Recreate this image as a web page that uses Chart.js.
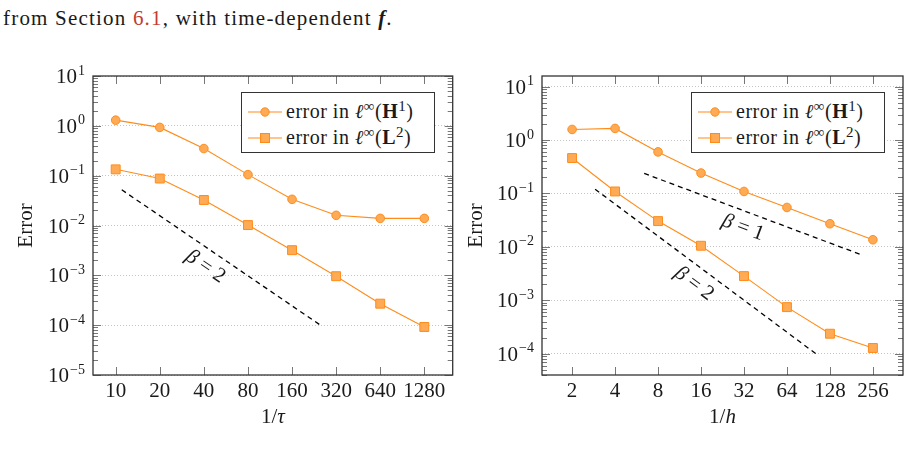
<!DOCTYPE html>
<html>
<head>
<meta charset="utf-8">
<script src="https://cdn.jsdelivr.net/npm/chart.js@4.4.1/dist/chart.umd.min.js"></script>
<style>
  body { margin: 0; background: #fff; font-family: "Liberation Serif", serif; color: #1a1a1a; }
  #page { position: relative; width: 912px; height: 464px; overflow: hidden; }
  .caption { position: absolute; left: 3px; top: 8px; font-size: 21px; line-height: 21px; letter-spacing: 1.2px; white-space: nowrap; }
  .caption .ref { color: #c33b2f; }
  .panel { position: absolute; top: 60px; height: 380px; }
  .legend { position: absolute; top: 32px; width: 192px; height: 59px; border: 1px solid #333; background: #fff; }
  .legend .row { position: absolute; left: 6px; height: 20px; line-height: 20px; font-size: 20px; letter-spacing: 0.5px; white-space: nowrap; }
  .legend svg { vertical-align: middle; margin-right: 4px; position: relative; top: -1px; }
  sup { font-size: 75%; line-height: 0; vertical-align: 0; position: relative; top: -0.5em; }
</style>
</head>
<body>
<div id="page">
  <div class="caption">from Section <span class="ref">6.1</span>, with time-dependent <b><i>f</i></b>.</div>

  <div class="panel" style="left:0; width:460px;">
    <canvas id="tauChart" width="460" height="380"></canvas>
    <div class="legend" style="left:241px;">
      <div class="row" style="top:8px;"><svg width="34" height="12"><line x1="0" y1="6" x2="34" y2="6" stroke="#ff8c1a" stroke-width="1.2"/><circle cx="17" cy="6" r="4.2" fill="#ffaa55" stroke="#ff8c1a"/></svg>error in <i>ℓ</i><sup>∞</sup>(<b>H</b><sup>1</sup>)</div>
      <div class="row" style="top:34px;"><svg width="34" height="12"><line x1="0" y1="6" x2="34" y2="6" stroke="#ff8c1a" stroke-width="1.2"/><rect x="12.5" y="1.5" width="9" height="9" fill="#ffaa55" stroke="#ff8c1a"/></svg>error in <i>ℓ</i><sup>∞</sup>(<b>L</b><sup>2</sup>)</div>
    </div>
  </div>

  <div class="panel" style="left:460px; width:452px;">
    <canvas id="hChart" width="452" height="380"></canvas>
    <div class="legend" style="left:231px;">
      <div class="row" style="top:8px;"><svg width="34" height="12"><line x1="0" y1="6" x2="34" y2="6" stroke="#ff8c1a" stroke-width="1.2"/><circle cx="17" cy="6" r="4.2" fill="#ffaa55" stroke="#ff8c1a"/></svg>error in <i>ℓ</i><sup>∞</sup>(<b>H</b><sup>1</sup>)</div>
      <div class="row" style="top:34px;"><svg width="34" height="12"><line x1="0" y1="6" x2="34" y2="6" stroke="#ff8c1a" stroke-width="1.2"/><rect x="12.5" y="1.5" width="9" height="9" fill="#ffaa55" stroke="#ff8c1a"/></svg>error in <i>ℓ</i><sup>∞</sup>(<b>L</b><sup>2</sup>)</div>
    </div>
  </div>
</div>

<script>
// left panel: time step refinement
const tauSteps = [10, 20, 40, 80, 160, 320, 640, 1280];
const tauErrH1 = [1.30, 0.93, 0.35, 0.105, 0.0335, 0.016, 0.0139, 0.0139];
const tauErrL2 = [0.134, 0.0875, 0.0325, 0.0102, 0.0032, 0.00096, 0.00027, 0.000092];
const tauSlope2 = [[11, 0.052], [250, 0.0001]];
const tauYTicks = [1e-5, 1e-4, 1e-3, 1e-2, 1e-1, 1e0, 1e1];

// right panel: mesh refinement
const hSteps = [2, 4, 8, 16, 32, 64, 128, 256];
const hErrH1 = [1.58, 1.65, 0.60, 0.241, 0.109, 0.0547, 0.0271, 0.0136];
const hErrL2 = [0.46, 0.109, 0.0304, 0.0105, 0.00284, 0.000746, 0.000237, 0.000128];
const hSlope1 = [[6.4, 0.237], [210, 0.0072]];
const hSlope2 = [[2.9, 0.12], [102, 0.0001]];
const hYTicks = [1e-4, 1e-3, 1e-2, 1e-1, 1e0, 1e1];

const ORANGE = '#ff8c1a';
const FILL = '#ffaa55';
const FONT = '"Liberation Serif", serif';

function series(xs, ys, style, r) {
  return {
    data: xs.map((v, i) => ({ x: v, y: ys[i] })),
    borderColor: ORANGE, borderWidth: 1.1,
    pointStyle: style, pointRadius: r,
    pointBackgroundColor: FILL, pointBorderColor: ORANGE, pointBorderWidth: 1
  };
}

function slopeLine(seg) {
  return {
    data: seg.map(p => ({ x: p[0], y: p[1] })),
    borderColor: '#000', borderWidth: 1.3, borderDash: [5, 4], pointRadius: 0
  };
}

function buildChart(id, o) {
  // draws the box, inward ticks, y labels, axis title and slope labels
  const frame = {
    id: 'frame',
    afterDraw(chart) {
      const { ctx, chartArea: a, scales: { x, y } } = chart;
      ctx.save();
      ctx.strokeStyle = '#777';
      ctx.lineWidth = 1;
      ctx.beginPath();
      o.steps.forEach(v => {
        const px = Math.round(x.getPixelForValue(v)) + 0.5;
        ctx.moveTo(px, a.bottom); ctx.lineTo(px, a.bottom - 8);
        ctx.moveTo(px, a.top); ctx.lineTo(px, a.top + 8);
      });
      const k0 = Math.floor(Math.log10(y.min)), k1 = Math.ceil(Math.log10(y.max));
      for (let k = k0; k <= k1; k++) {
        for (let m = 1; m <= 9; m++) {
          const v = m * Math.pow(10, k);
          if (v < y.min * 0.999 || v > y.max * 1.001) continue;
          const py = Math.round(y.getPixelForValue(v)) + 0.5;
          const len = m === 1 ? 8 : 5;
          ctx.moveTo(a.left, py); ctx.lineTo(a.left + len, py);
          ctx.moveTo(a.right, py); ctx.lineTo(a.right - len, py);
        }
      }
      ctx.stroke();

      ctx.strokeStyle = '#333';
      ctx.lineWidth = 1.3;
      ctx.strokeRect(a.left, a.top, a.right - a.left, a.bottom - a.top);

      // y tick labels 10^k
      ctx.fillStyle = '#1a1a1a';
      ctx.textBaseline = 'alphabetic';
      ctx.textAlign = 'left';
      o.yTicks.forEach(v => {
        const k = Math.round(Math.log10(v));
        const ex = (k < 0 ? '\u2212' : '') + Math.abs(k);
        const py = y.getPixelForValue(v);
        ctx.font = '14px ' + FONT;
        const we = ctx.measureText(ex).width;
        ctx.font = '21px ' + FONT;
        const wb = ctx.measureText('10').width;
        const xr = a.left - 8;
        ctx.fillText('10', xr - we - wb - 1, py + 7);
        ctx.font = '14px ' + FONT;
        ctx.fillText(ex, xr - we, py - 1.5);
      });

      // x axis title
      ctx.textBaseline = 'middle';
      ctx.font = '21px ' + FONT;
      const w1 = ctx.measureText('1/').width;
      ctx.font = 'italic 21px ' + FONT;
      const w2 = ctx.measureText(o.xVar).width;
      const cx = (a.left + a.right) / 2 - (w1 + w2) / 2;
      const ty = a.bottom + 42;
      ctx.font = '21px ' + FONT;
      ctx.fillText('1/', cx, ty);
      ctx.font = 'italic 21px ' + FONT;
      ctx.fillText(o.xVar, cx + w1, ty);

      // slope labels along the dashed lines
      o.slopeLabels.forEach(l => {
        const seg = o.slopes[l.line];
        const ang = Math.atan2(
          y.getPixelForValue(seg[1][1]) - y.getPixelForValue(seg[0][1]),
          x.getPixelForValue(seg[1][0]) - x.getPixelForValue(seg[0][0]));
        ctx.save();
        ctx.translate(x.getPixelForValue(l.x), y.getPixelForValue(l.y));
        ctx.rotate(ang);
        ctx.font = 'italic 21px ' + FONT;
        const wb = ctx.measureText('\u03b2').width;
        ctx.font = '21px ' + FONT;
        const rest = ' = ' + l.text;
        const wr = ctx.measureText(rest).width;
        const sx = -(wb + wr) / 2;
        ctx.font = 'italic 21px ' + FONT;
        ctx.fillText('\u03b2', sx, 0);
        ctx.font = '21px ' + FONT;
        ctx.fillText(rest, sx + wb, 0);
        ctx.restore();
      });
      ctx.restore();
    }
  };

  return new Chart(document.getElementById(id), {
    type: 'line',
    data: {
      datasets: [
        series(o.steps, o.h1, 'circle', 4.3),
        series(o.steps, o.l2, 'rect', 6.3),
        ...o.slopes.map(slopeLine)
      ]
    },
    options: {
      responsive: false,
      animation: false,
      layout: { padding: { top: 16, right: o.padRight, left: 0, bottom: 0 } },
      plugins: { legend: { display: false }, tooltip: { enabled: false } },
      scales: {
        x: {
          type: 'logarithmic', min: o.xMin, max: o.xMax, bounds: 'data',
          afterBuildTicks: s => { s.ticks = o.steps.map(v => ({ value: v })); },
          afterFit: s => { s.height = 65; },
          ticks: {
            autoSkip: false, maxRotation: 0, padding: 4, color: '#1a1a1a',
            font: { family: FONT, size: 21 },
            callback: v => String(v)
          },
          grid: { display: false, drawTicks: false },
          border: { display: false }
        },
        y: {
          type: 'logarithmic', min: o.yMin, max: o.yMax, bounds: 'data',
          afterBuildTicks: s => { s.ticks = o.yTicks.map(v => ({ value: v })); },
          afterFit: s => { s.width = o.axisLeft; },
          ticks: { display: false },
          grid: { color: '#b8b8b8', lineWidth: 0.8, drawTicks: false },
          border: { display: false, dash: [1, 2] },
          title: {
            display: true, text: 'Error', color: '#1a1a1a',
            font: { family: FONT, size: 21 },
            padding: { top: o.titlePad, bottom: 0 }
          }
        }
      }
    },
    plugins: [frame]
  });
}

buildChart('tauChart', {
  steps: tauSteps, h1: tauErrH1, l2: tauErrL2, slopes: [tauSlope2],
  yTicks: tauYTicks, xMin: 7, xMax: 2000, yMin: 1e-5, yMax: 10,
  axisLeft: 93, padRight: 7, titlePad: 14, xVar: '\u03c4',
  slopeLabels: [{ x: 41, y: 1.5e-3, text: '2', line: 0 }]
});

buildChart('hChart', {
  steps: hSteps, h1: hErrH1, l2: hErrL2, slopes: [hSlope1, hSlope2],
  yTicks: hYTicks, xMin: 1.231, xMax: 416, yMin: 4e-5, yMax: 15.8,
  axisLeft: 82, padRight: 9, titlePad: 4, xVar: 'h',
  slopeLabels: [
    { x: 31.5, y: 0.0228, text: '1', line: 0 },
    { x: 14.3, y: 2.04e-3, text: '2', line: 1 }
  ]
});
</script>
</body>
</html>
